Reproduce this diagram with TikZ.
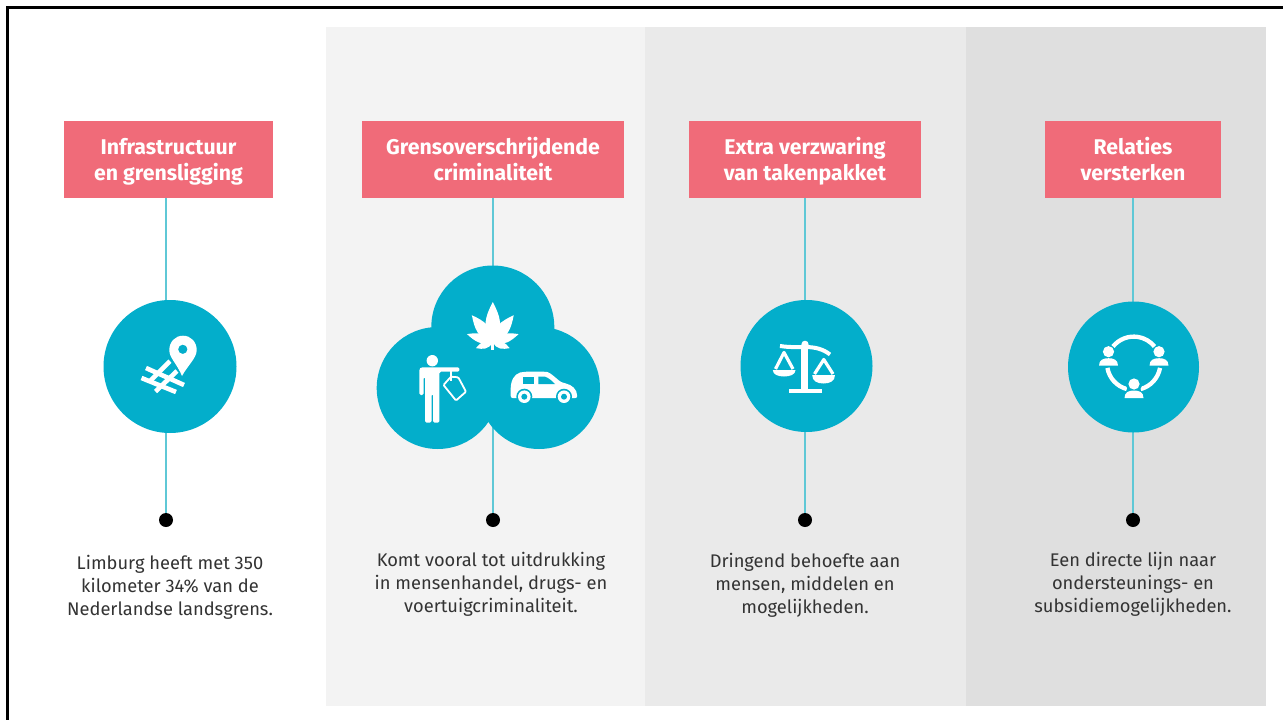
\documentclass[tikz,border=0pt]{standalone}
\usepackage{fontspec}
\setmainfont{Fira Sans}
\definecolor{teal1}{HTML}{03AECB}
\definecolor{pinkb}{HTML}{F06B79}
\definecolor{pan1}{HTML}{F3F3F3}
\definecolor{pan2}{HTML}{EAEAEA}
\definecolor{pan3}{HTML}{DFDFDF}
\definecolor{linec}{HTML}{5FC8D6}
\newcommand{\Tt}[2]{\rule{0pt}{\dimexpr\ht\strutbox+6pt\relax}\strut #1\\\strut #2}
\newcommand{\Cc}[3]{\strut #1\\\strut #2\\\strut #3}
\tikzset{
 titlebox/.style={fill=pinkb,text=white,font=\fontsize{21.3}{26}\selectfont\bfseries,align=center,inner sep=0pt},
 disc/.style={circle,fill=teal1,minimum size=#1,inner sep=0pt},
 dotn/.style={circle,fill=black,minimum size=14pt,inner sep=0pt},
 caption/.style={font=\fontsize{18.3}{23}\selectfont,align=center,text=black!80},
 conn/.style={linec,line width=1.5pt},
}
\begin{document}
\begin{tikzpicture}[x=1pt,y=-1pt]
\useasboundingbox (0,0) rectangle (1283,720);
\fill[white] (0,0) rectangle (1283,720);
\fill[pan1] (326,27) rectangle (645,706);
\fill[pan2] (645,27) rectangle (966,706);
\fill[pan3] (966,27) rectangle (1266,706);
\draw[black,line width=3pt] (1283,7.5) -- (7.5,7.5) -- (7.5,720);
% titles
\node[titlebox,minimum width=209pt,minimum height=77pt] (t1) at (168.5,159.5) {\Tt{Infrastructuur}{en grensligging}};
\node[titlebox,minimum width=262pt,minimum height=77pt] (t2) at (493,159.5) {\Tt{Grensoverschrijdende}{criminaliteit}};
\node[titlebox,minimum width=232pt,minimum height=77pt] (t3) at (805,159.5) {\Tt{Extra verzwaring}{van takenpakket}};
\node[titlebox,minimum width=176pt,minimum height=77pt] (t4) at (1133,159.5) {\Tt{Relaties}{versterken}};
% dots
\node[dotn] (d1) at (166,520) {};
\node[dotn] (d2) at (493,520) {};
\node[dotn] (d3) at (805,520) {};
\node[dotn] (d4) at (1133,520) {};
% connectors
\coordinate (x1) at (166,198);
\coordinate (x2) at (493,198);
\coordinate (x3) at (805,198);
\coordinate (x4) at (1133,198);
\draw[conn] (x1) -- (d1);
\draw[conn] (x2) -- (d2);
\draw[conn] (x3) -- (d3);
\draw[conn] (x4) -- (d4);
% discs
\node[disc=133pt] (c1) at (170,366.5) {};
\node[disc=123pt] (c2a) at (492.8,327) {};
\node[disc=122pt] (c2b) at (437.7,388) {};
\node[disc=122pt] (c2c) at (539,388) {};
\node[disc=132pt] (c3) at (806.5,366) {};
\node[disc=131pt] (c4) at (1133.5,367) {};
% icon 1: road + pin
\begin{scope}[white,line width=4.6pt]
\draw (146,368) -- (184,385);
\draw (141.5,378) -- (176,392);
\draw (170,361) -- (150,381);
\draw (177,371) -- (155.5,391.5);
\end{scope}
\fill[teal1] (183,379) .. controls (174,364) and (166,358) .. (166,350)
  .. controls (166,340) and (174,333) .. (183,333)
  .. controls (192,333) and (200,340) .. (200,350)
  .. controls (200,358) and (192,365) .. (183,379) -- cycle;
\fill[white,even odd rule] (182,376) .. controls (176,362) and (169.3,358) .. (169.3,350)
  .. controls (169.3,342) and (175,335.7) .. (183,335.7)
  .. controls (191,335.7) and (196.7,342) .. (196.7,350)
  .. controls (196.7,358) and (188,365) .. (182,376) -- cycle
  (182.8,349.3) circle (4.7pt);
% icon 2: leaf
\begin{scope}[shift={(492.8,342)}]
\foreach \rr/\ll/\ww in {0/40/12,38/34/10,-38/34/10,73/27/7.5,-73/27/7.5,110/18/6,-110/18/6}{
  \begin{scope}[rotate=\rr]
  \fill[white] (0,0) .. controls (\ww,-0.35*\ll) and (0.6*\ww,-0.65*\ll) .. (0,-\ll)
     .. controls (-0.6*\ww,-0.65*\ll) and (-\ww,-0.35*\ll) .. (0,0) -- cycle;
  \end{scope}
}
\fill[white] (-1.4,-2) rectangle (1.4,8);
\end{scope}
% person with tag
\fill[white] (432.3,360.7) circle (5.7pt);
\fill[white,rounded corners=1.5pt] (421,367.3) -- (459.3,367.3) -- (459.3,371.7) -- (439.3,371.7) -- (439.3,422.7) -- (433,422.7) -- (433,394) -- (431.5,394) -- (431.5,422.7) -- (425,422.7) -- (425,377) -- (423.5,377) -- (423.5,395) -- (419.3,395) -- (419.3,369) -- cycle;
\draw[white,line width=1.8pt,fill=teal1,rounded corners=1pt] (451,376.7) -- (443.5,385) -- (456,400.5) -- (466,391.7) -- (458.3,377.3) -- cycle;
\draw[white,line width=1.2pt] (451,368) -- (451,381);
% car
\fill[white,rounded corners=2pt] (510.7,398) -- (510.7,386) .. controls (513,375) and (518,372) .. (527,371.7)
 -- (544,371.7) .. controls (551,372) and (558,381) .. (564,383) .. controls (572,385) and (577,389) .. (577.3,398) -- cycle;
\fill[teal1] (522.7,376.7) -- (534,376.7) -- (534,384) -- (522.7,384) -- cycle;
\fill[teal1] (538.3,376.7) -- (545,376.7) .. controls (549,378) and (552,381) .. (555,384) -- (538.3,384) -- cycle;
\foreach \cx in {524.3,564}{
  \fill[teal1] (\cx,396.7) circle (8pt);
  \fill[white] (\cx,396.7) circle (6.3pt);
  \fill[teal1] (\cx,396.7) circle (3pt);
}
% icon 3: scales
\begin{scope}[white]
\fill (805,344.3) circle (3.6pt);
\draw[line width=4pt] (780,346) .. controls (790,347.5) and (797,347) .. (805,347) .. controls (815,347) and (823,349) .. (830,354.5);
\fill (801,346) rectangle (808.3,391);
\fill (789.3,389) rectangle (821.7,393.3);
\draw[line width=3.2pt,line join=round] (775.5,369) -- (784,352.5) -- (793,369);
\draw[line width=3.2pt,line join=round] (814.5,374) -- (823.8,359.5) -- (833,374);
\fill (772.8,370) -- (795.5,370) .. controls (795.5,374.5) and (790,376.5) .. (784,376.5) .. controls (778,376.5) and (772.8,374.5) .. (772.8,370) -- cycle;
\fill (812.2,375) -- (835,375) .. controls (835,381) and (830,383.5) .. (823.5,383.5) .. controls (817,383.5) and (812.2,381) .. (812.2,375) -- cycle;
\end{scope}
% icon 4: people ring
\begin{scope}[white,line width=4.3pt]
\draw (1113,346.5) arc[start angle=141,end angle=39,radius=26.7pt];
\draw (1107.4,367.9) arc[start angle=190,end angle=255,radius=26.7pt];
\draw (1160,367.9) arc[start angle=350,end angle=285,radius=26.7pt];
\end{scope}
\fill[teal1] (1134,384) circle (8pt);
\foreach \px/\py in {1108.5/351.7,1159/351.7,1134/384}{
  \fill[white] (\px,\py) circle (5.6pt);
  \fill[white] (\px-9.5,\py+14) .. controls (\px-9.5,\py+8) and (\px-5,\py+6.5) .. (\px,\py+6.5) .. controls (\px+5,\py+6.5) and (\px+9.5,\py+8) .. (\px+9.5,\py+14) -- cycle;
}
% captions
\node[caption] (p1) at (170,588) {\Cc{Limburg heeft met 350}{kilometer 34\% van de}{Nederlandse landsgrens.}};
\node[caption] (p2) at (491,585) {\Cc{Komt vooral tot uitdrukking}{in mensenhandel, drugs- en}{voertuigcriminaliteit.}};
\node[caption] (p3) at (805,586) {\Cc{Dringend behoefte aan}{mensen, middelen en}{mogelijkheden.}};
\node[caption] (p4) at (1133,585) {\Cc{Een directe lijn naar}{ondersteunings- en}{subsidiemogelijkheden.}};
\end{tikzpicture}
\end{document}
